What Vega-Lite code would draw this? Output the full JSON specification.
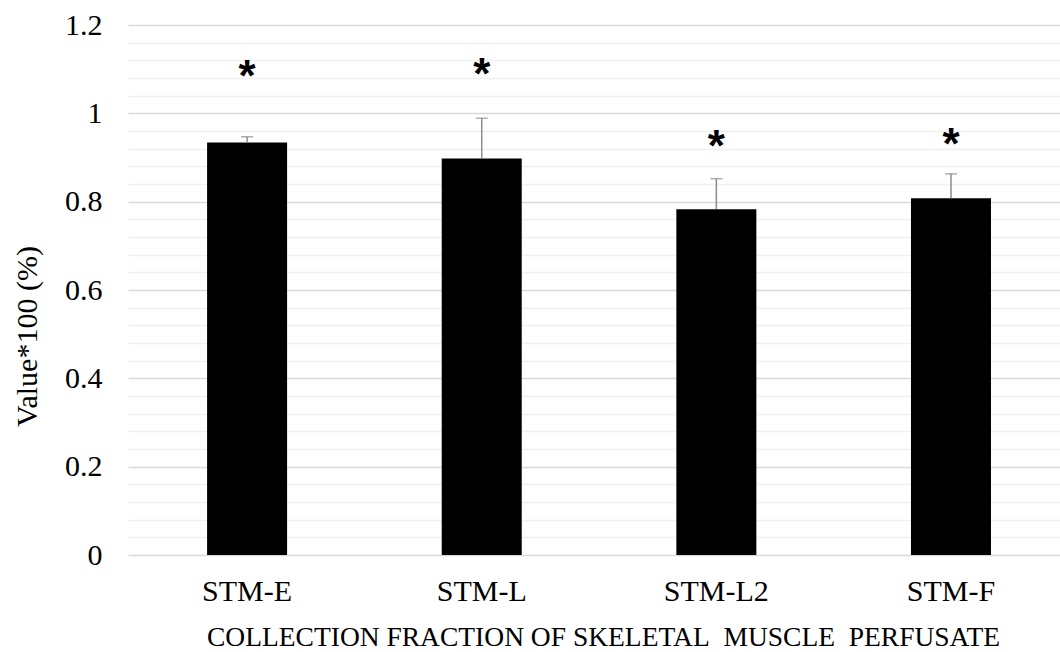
{
  "$schema": "https://vega.github.io/schema/vega-lite/v6.json",
  "autosize": "none",
  "width": 932,
  "height": 530,
  "padding": {"left": 128, "top": 25, "right": 0, "bottom": 97},
  "background": "white",
  "config": {"view": {"stroke": null}},
  "data": {
    "values": [
      {"fraction": "STM-E", "value": 0.934, "upper": 0.947, "star": 1.094},
      {"fraction": "STM-L", "value": 0.898, "upper": 0.989, "star": 1.098},
      {"fraction": "STM-L2", "value": 0.783, "upper": 0.852, "star": 0.936},
      {"fraction": "STM-F", "value": 0.808, "upper": 0.863, "star": 0.94}
    ]
  },
  "encoding": {
    "x": {
      "field": "fraction",
      "type": "nominal",
      "sort": null,
      "scale": {"paddingInner": 0.659, "paddingOuter": 0.3156, "align": 0.534},
      "axis": {
        "title": "COLLECTION FRACTION OF SKELETAL\u00a0\u00a0MUSCLE\u00a0\u00a0PERFUSATE",
        "labelAngle": 0,
        "labelFont": "Liberation Serif",
        "labelFontSize": 30,
        "labelColor": "#000000",
        "labelPadding": 21,
        "titleFont": "Liberation Serif",
        "titleFontSize": 27.5,
        "titleFontWeight": "normal",
        "titleColor": "#000000",
        "titlePadding": 17,
        "titleX": 475,
        "domain": false,
        "ticks": false,
        "grid": false
      }
    }
  },
  "layer": [
    {
      "mark": {"type": "bar", "color": "#000000"},
      "encoding": {
        "y": {
          "field": "value",
          "type": "quantitative",
          "scale": {"domain": [0, 1.2], "nice": false},
          "axis": {
            "title": "Value*100 (%)",
            "titleFont": "Liberation Serif",
            "titleFontSize": 30,
            "titleFontWeight": "normal",
            "titleColor": "#000000",
            "titlePadding": 22,
            "titleY": 311,
            "tickCount": 40,
            "values": [0, 0.04, 0.08, 0.12, 0.16, 0.2, 0.24, 0.28, 0.32, 0.36, 0.4, 0.44, 0.48, 0.52, 0.56, 0.6, 0.64, 0.68, 0.72, 0.76, 0.8, 0.84, 0.88, 0.92, 0.96, 1, 1.04, 1.08, 1.12, 1.16, 1.2],
            "labelExpr": "abs(datum.value*5 - round(datum.value*5)) < 0.000001 ? '' + round(datum.value*10)/10 : ''",
            "labelFont": "Liberation Serif",
            "labelFontSize": 30,
            "labelColor": "#000000",
            "labelPadding": 26,
            "labelOverlap": false,
            "domain": false,
            "ticks": false,
            "grid": true,
            "gridWidth": 1.3,
            "gridColor": {
              "condition": {"test": "abs(datum.value*5 - round(datum.value*5)) < 0.000001", "value": "#d9d9d9"},
              "value": "#f0f0f0"
            }
          }
        }
      }
    },
    {
      "mark": {"type": "rule", "color": "#8c8c8c", "strokeWidth": 1.5},
      "encoding": {
        "y": {"field": "value", "type": "quantitative"},
        "y2": {"field": "upper"}
      }
    },
    {
      "mark": {"type": "tick", "color": "#8c8c8c", "thickness": 1.5, "size": 12, "orient": "horizontal"},
      "encoding": {
        "y": {"field": "upper", "type": "quantitative"}
      }
    },
    {
      "mark": {"type": "text", "font": "Liberation Sans", "fontWeight": "bold", "fontSize": 44, "baseline": "alphabetic", "dy": 19, "color": "#000000"},
      "encoding": {
        "y": {"field": "star", "type": "quantitative"},
        "text": {"value": "*"}
      }
    }
  ]
}
